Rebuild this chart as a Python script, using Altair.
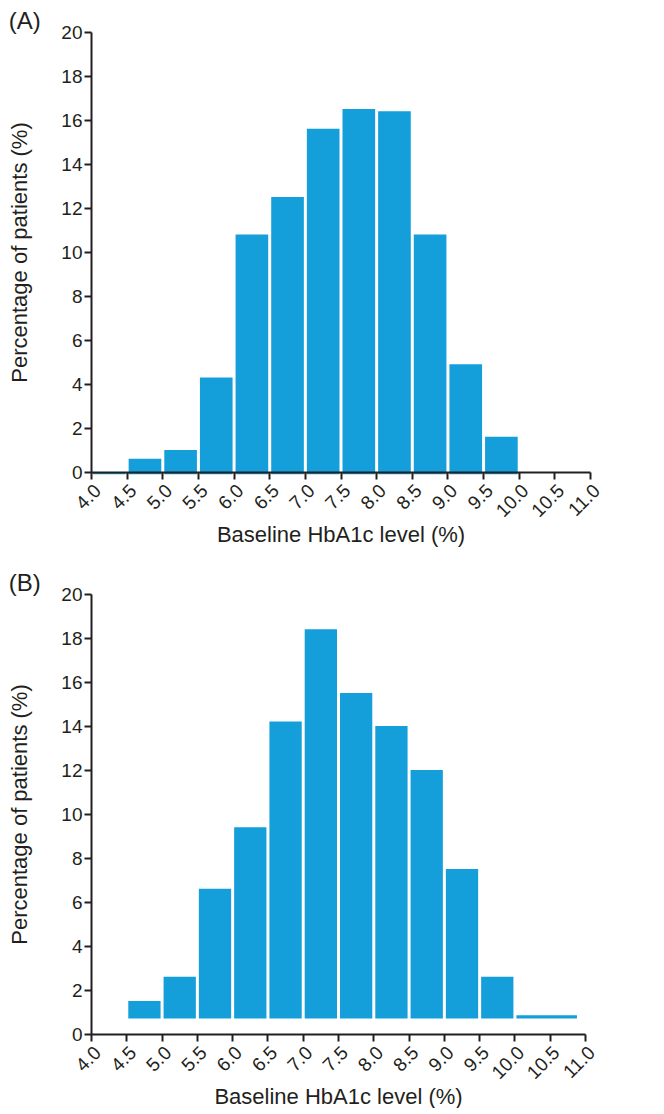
import altair as alt
import pandas as pd

# Panel A: baseline HbA1c histogram
a_bin_start = [4.0, 4.5, 5.0, 5.5, 6.0, 6.5, 7.0, 7.5, 8.0, 8.5, 9.0, 9.5]
a_bin_end = [4.5, 5.0, 5.5, 6.0, 6.5, 7.0, 7.5, 8.0, 8.5, 9.0, 9.5, 10.0]
a_pct = [0.0, 0.6, 1.0, 4.3, 10.8, 12.5, 15.6, 16.5, 16.4, 10.8, 4.9, 1.6]
a_base = -0.1

# Panel B
b_bin_start = [4.5, 5.0, 5.5, 6.0, 6.5, 7.0, 7.5, 8.0, 8.5, 9.0, 9.5, 10.0]
b_bin_end = [5.0, 5.5, 6.0, 6.5, 7.0, 7.5, 8.0, 8.5, 9.0, 9.5, 10.0, 10.9]
b_pct = [1.5, 2.6, 6.6, 9.4, 14.2, 18.4, 15.5, 14.0, 12.0, 7.5, 2.6, 0.85]
b_base = 0.7

x_ticks = [4.0, 4.5, 5.0, 5.5, 6.0, 6.5, 7.0, 7.5, 8.0, 8.5, 9.0, 9.5, 10.0, 10.5, 11.0]
y_ticks = [0, 2, 4, 6, 8, 10, 12, 14, 16, 18, 20]

FONT = "Liberation Sans"
INK = "#231f20"
BAR = "#149fda"

df_a = pd.DataFrame({"start": a_bin_start, "end": a_bin_end, "pct": a_pct,
                     "base": [a_base] * len(a_pct)})
df_b = pd.DataFrame({"start": b_bin_start, "end": b_bin_end, "pct": b_pct,
                     "base": [b_base] * len(b_pct)})


def axis_common(title, values, fmt, angle=0, title_pad=4):
    return alt.Axis(
        title=title, values=values, format=fmt, labelAngle=angle,
        domainColor=INK, domainWidth=2, tickColor=INK, tickWidth=2, tickSize=7,
        labelColor=INK, labelFont=FONT, labelFontSize=19, labelPadding=2,
        labelOverlap=False, labelBound=False, labelFlush=False,
        titleColor=INK, titleFont=FONT, titleFontSize=22, titleFontWeight="normal",
        titlePadding=title_pad, grid=False, zindex=1,
    )


def panel(df, label, width):
    return alt.Chart(df).mark_bar(color=BAR, binSpacing=3).encode(
        x=alt.X("start:Q", bin="binned",
                scale=alt.Scale(domain=[4, 11], nice=False),
                axis=axis_common("Baseline HbA1c level (%)", x_ticks, ".1f", 315, 4)),
        x2="end:Q",
        y=alt.Y("pct:Q", scale=alt.Scale(domain=[0, 20], nice=False),
                axis=axis_common("Percentage of patients (%)", y_ticks, "d", 0, 29)),
        y2="base:Q",
    ).properties(
        width=width, height=440,
        title=alt.TitleParams(text=label, anchor="start", frame="bounds",
                              fontSize=24, fontWeight="normal", font=FONT,
                              color=INK, offset=-11),
    )


chart = alt.vconcat(
    panel(df_a, "(A)", 499),
    panel(df_b, "(B)", 494),
    spacing=26,
).properties(
    padding={"top": 2, "left": 0, "right": 0, "bottom": 0}
).configure_view(stroke=None)

chart.save("out.html", embed_options={"renderer": "svg", "actions": False})
